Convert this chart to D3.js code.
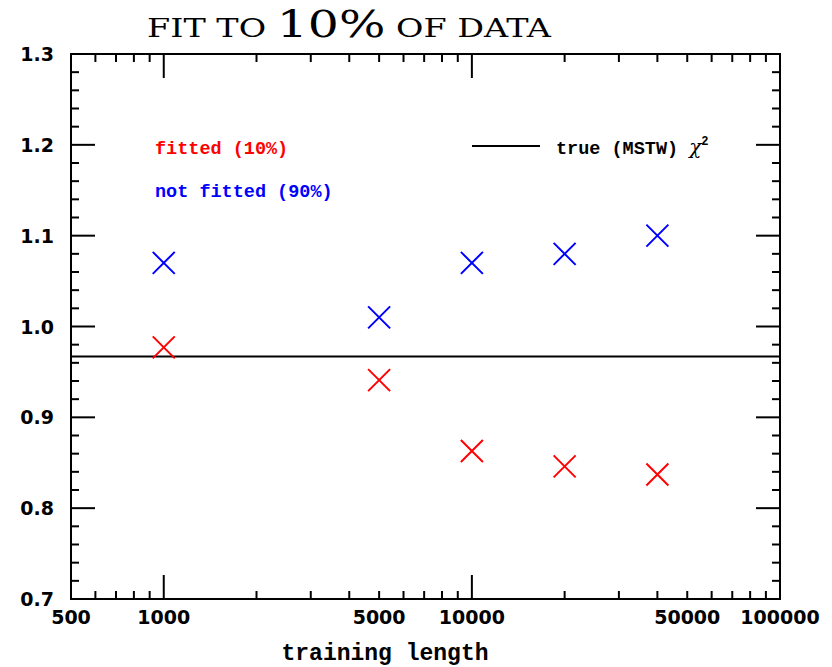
<!DOCTYPE html>
<html>
<head>
<meta charset="utf-8">
<script src="https://cdn.jsdelivr.net/npm/d3@7"></script>
<style>
  body { margin: 0; background: #fff; }
  .num { font-family: "DejaVu Sans", sans-serif; font-weight: bold; font-size: 19px; }
  .mono { font-family: "Liberation Mono", monospace; font-weight: bold; }
</style>
</head>
<body>
<div id="chart"></div>
<script>
// data
let lengths = [1000, 5000, 10000, 20000, 40000];
let fitted = [0.977, 0.941, 0.863, 0.846, 0.837];
let notFitted = [1.07, 1.01, 1.07, 1.08, 1.10];
let trueChi2 = 0.967;
let xTickLabels = [500, 1000, 5000, 10000, 50000, 100000];
let yTickLabels = [0.7, 0.8, 0.9, 1.0, 1.1, 1.2, 1.3];

let width = 832;
let height = 667;
let margin = ({top: 54, right: 52, bottom: 68, left: 71});

let svg = d3.select("#chart")
    .append("svg")
    .attr("width", width)
    .attr("height", height)

let xScale = d3.scaleLog()
    .domain([500, 100000])
    .range([margin.left, width - margin.right])

let yScale = d3.scaleLinear()
    .domain([0.7, 1.3])
    .range([height - margin.bottom, margin.top])

// tick positions
let xMajor = [1000, 10000]
let xMinor = []
for (let d = 100; d <= 10000; d *= 10) {
    for (let k = 2; k <= 9; k++) {
        let v = k * d
        if (v > 500 && v < 100000) xMinor.push(v)
    }
}
let yMajor = d3.range(0.8, 1.25, 0.1)
let yMinor = d3.range(0.72, 1.29, 0.02).filter(v => Math.abs(v * 10 - Math.round(v * 10)) > 0.01)

let x0 = margin.left, x1 = width - margin.right
let y0 = height - margin.bottom, y1 = margin.top
let big = 24, small = 8

let ticks = svg.append("g").attr("stroke", "black").attr("stroke-width", 2)

function xt(vals, len) {
    vals.forEach(v => {
        let x = xScale(v)
        ticks.append("line").attr("x1", x).attr("x2", x).attr("y1", y0).attr("y2", y0 - len)
        ticks.append("line").attr("x1", x).attr("x2", x).attr("y1", y1).attr("y2", y1 + len)
    })
}
function yt(vals, len) {
    vals.forEach(v => {
        let y = yScale(v)
        ticks.append("line").attr("x1", x0).attr("x2", x0 + len).attr("y1", y).attr("y2", y)
        ticks.append("line").attr("x1", x1).attr("x2", x1 - len).attr("y1", y).attr("y2", y)
    })
}
xt(xMajor, big)
xt(xMinor, small)
yt(yMajor, big)
yt(yMinor, small)

// frame
svg.append("rect")
    .attr("x", x0).attr("y", y1)
    .attr("width", x1 - x0).attr("height", y0 - y1)
    .attr("fill", "none").attr("stroke", "black").attr("stroke-width", 2)

// tick labels
svg.append("g").selectAll("text")
    .data(xTickLabels)
    .enter()
    .append("text")
    .attr("class", "num")
    .attr("font-size", 20)
    .attr("x", d => xScale(d))
    .attr("y", y0 + 25)
    .attr("text-anchor", "middle")
    .text(d => d)

svg.append("g").selectAll("text")
    .data(yTickLabels)
    .enter()
    .append("text")
    .attr("class", "num")
    .attr("x", x0 - 17)
    .attr("y", d => yScale(d) + 7)
    .attr("text-anchor", "end")
    .text(d => d.toFixed(1))

// axis title
svg.append("text")
    .attr("class", "mono")
    .attr("x", 385)
    .attr("y", 660)
    .attr("text-anchor", "middle")
    .attr("font-size", 23)
    .text("training length")

// chart title
let title = svg.append("text")
    .attr("x", 147)
    .attr("y", 37)
    .attr("font-family", "DejaVu Serif, serif")
    .attr("font-size", 26)
    .attr("textLength", 404)
    .attr("lengthAdjust", "spacingAndGlyphs")
title.append("tspan").text("FIT TO ")
title.append("tspan").attr("font-size", 38).text("10%")
title.append("tspan").text(" OF DATA")

// true chi2 line
svg.append("line")
    .attr("x1", x0).attr("x2", x1)
    .attr("y1", yScale(trueChi2)).attr("y2", yScale(trueChi2))
    .attr("stroke", "black").attr("stroke-width", 2)

// markers
function crosses(vals, color) {
    let s = 11
    let g = svg.append("g").attr("stroke", color).attr("stroke-width", 2)
    vals.forEach((v, i) => {
        let cx = xScale(lengths[i]), cy = yScale(v)
        g.append("path")
            .attr("d", `M${cx - s},${cy - s}L${cx + s},${cy + s}M${cx - s},${cy + s}L${cx + s},${cy - s}`)
    })
}
crosses(notFitted, "#0000ff")
crosses(fitted, "#ff0000")

// legend
svg.append("text").attr("class", "mono").attr("font-size", 18.5)
    .attr("x", 155).attr("y", 154).attr("fill", "#ff0000")
    .text("fitted (10%)")
svg.append("text").attr("class", "mono").attr("font-size", 18.5)
    .attr("x", 155).attr("y", 197).attr("fill", "#0000ff")
    .text("not fitted (90%)")

svg.append("line")
    .attr("x1", 472).attr("x2", 540).attr("y1", 146).attr("y2", 146)
    .attr("stroke", "black").attr("stroke-width", 2)
let lt = svg.append("text").attr("class", "mono").attr("font-size", 18.5)
    .attr("x", 556).attr("y", 154)
lt.append("tspan").text("true (MSTW) ")
lt.append("tspan").attr("font-family", "DejaVu Serif, serif").attr("font-style", "italic")
    .attr("font-weight", "normal").attr("font-size", 20).text("χ")
lt.append("tspan").attr("font-size", 12).attr("dy", -9).text("2")
</script>
</body>
</html>
